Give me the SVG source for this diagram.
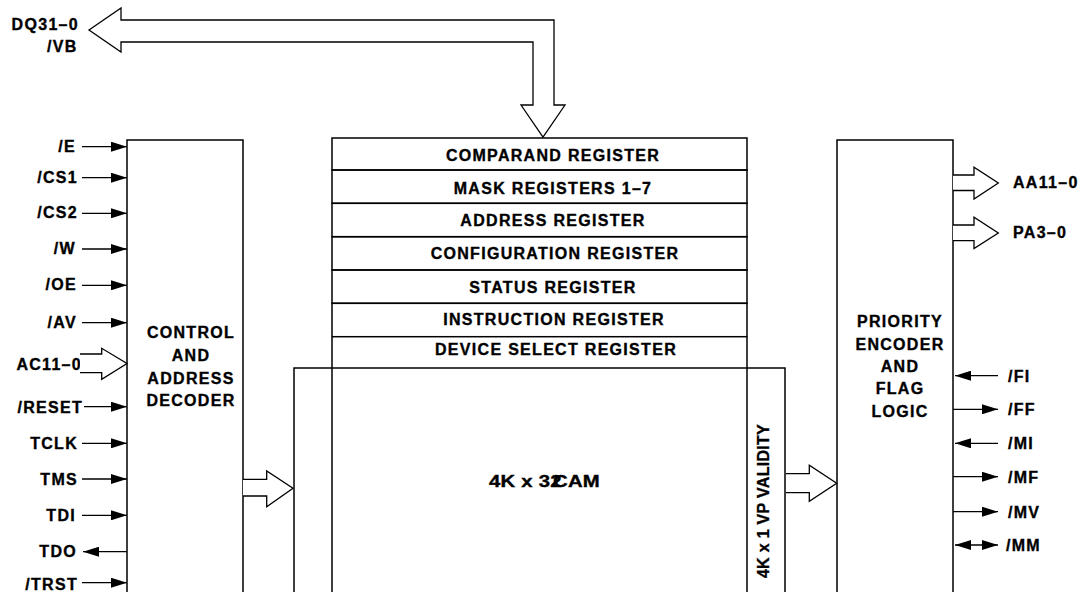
<svg xmlns="http://www.w3.org/2000/svg" width="1082" height="592" viewBox="0 0 1082 592">
<style>
.b{fill:none;stroke:#000;stroke-width:1.5}
.h{fill:#fff;stroke:#000;stroke-width:1.3;stroke-linejoin:miter}
.o{fill:none;stroke:#000;stroke-width:1.3}
.s{fill:none;stroke:#000;stroke-width:1.3;marker-end:url(#ah)}
.t{font-family:"Liberation Sans",Arial,Helvetica,sans-serif;font-weight:bold;font-size:16px;letter-spacing:1.3px;fill:#000;stroke:#000;stroke-width:0.35px}
.e{text-anchor:end}
.m{text-anchor:middle}
</style>
<defs>
<marker id="ah" markerUnits="userSpaceOnUse" markerWidth="16" markerHeight="10" refX="16" refY="5" orient="auto-start-reverse">
<path d="M0,0 L16,5 L0,10 z" fill="#000"/>
</marker>
</defs>
<rect width="1082" height="592" fill="#fff"/>

<g id="control">
<path class="b" d="M127,600 V140 H243 V600"/>
<text class="t m" x="191" y="338">CONTROL</text>
<text class="t m" x="191" y="361">AND</text>
<text class="t m" x="191" y="383.5">ADDRESS</text>
<text class="t m" x="191" y="406">DECODER</text>
</g>

<g id="registers">
<rect class="b" x="332" y="138" width="415" height="32"/>
<rect class="b" x="332" y="170" width="415" height="33.3"/>
<rect class="b" x="332" y="203.3" width="415" height="33.4"/>
<rect class="b" x="332" y="236.7" width="415" height="33.3"/>
<rect class="b" x="332" y="270" width="415" height="33.3"/>
<rect class="b" x="332" y="303.3" width="415" height="33.4"/>
<path class="b" d="M332,336.7 V600 M747,336.7 V600"/>
<text class="t m" x="553" y="161">COMPARAND REGISTER</text>
<text class="t m" x="553" y="193.5">MASK REGISTERS 1–7</text>
<text class="t m" x="553" y="225.5">ADDRESS REGISTER</text>
<text class="t m" x="555" y="259">CONFIGURATION REGISTER</text>
<text class="t m" x="553" y="293">STATUS REGISTER</text>
<text class="t m" x="554" y="325">INSTRUCTION REGISTER</text>
<text class="t m" x="556" y="355">DEVICE SELECT REGISTER</text>
</g>

<g id="cam">
<path class="b" d="M294,600 V368 H785 V600"/>
<g transform="translate(489,487) scale(1.27,1)">
<text class="t" x="0" y="0" dx="0 0 0 0 0 0 0 -7" style="letter-spacing:0.2px">4K x 32CAM</text>
</g>
</g>

<g id="validity">
<text class="t m" transform="translate(769,501) rotate(-90)" style="letter-spacing:0.3px">4K x 1 VP VALIDITY</text>
</g>

<g id="priority">
<path class="b" d="M837,600 V140 H953 V600"/>
<text class="t m" x="900" y="326.5">PRIORITY</text>
<text class="t m" x="900" y="349.5">ENCODER</text>
<text class="t m" x="900" y="371.7">AND</text>
<text class="t m" x="900" y="394.4">FLAG</text>
<text class="t m" x="900" y="417">LOGIC</text>
</g>

<g id="labels">
<text class="t e" x="79" y="29.5">DQ31–0</text>
<text class="t e" x="77.5" y="51.7">/VB</text>
<text class="t e" x="76" y="152">/E</text>
<text class="t e" x="78" y="182.7">/CS1</text>
<text class="t e" x="78" y="218.3">/CS2</text>
<text class="t e" x="76" y="253.8">/W</text>
<text class="t e" x="77" y="290">/OE</text>
<text class="t e" x="77" y="327.5">/AV</text>
<text class="t e" x="82" y="369.5">AC11–0</text>
<text class="t e" x="83" y="412.5">/RESET</text>
<text class="t e" x="78" y="448.5">TCLK</text>
<text class="t e" x="78" y="485">TMS</text>
<text class="t e" x="76" y="521">TDI</text>
<text class="t e" x="77" y="556.7">TDO</text>
<text class="t e" x="78" y="590">/TRST</text>
<text class="t" x="1013" y="188.3">AA11–0</text>
<text class="t" x="1013" y="238.3">PA3–0</text>
<text class="t" x="1008" y="381.7">/FI</text>
<text class="t" x="1008" y="415">/FF</text>
<text class="t" x="1008" y="449">/MI</text>
<text class="t" x="1008" y="482.5">/MF</text>
<text class="t" x="1008" y="517.5">/MV</text>
<text class="t" x="1006" y="551">/MM</text>
</g>

<g id="connectors">
<polygon class="h" points="89,30 121,8 121,20 554,20 554,105 565,105 543,137 521,105 533,105 533,42 121,42 121,52"/>
<path class="h" d="M80,354 H101.7 V348.3 L127,363.5 L101.7,379.3 V372.7 H80"/>
<path class="h" d="M243,479.3 H266.7 V471 L293,488.3 L266.7,506.7 V496 H243"/>
<path class="h" d="M786,473.7 H809.3 V465.3 L836.7,483.3 L809.3,501.3 V492.7 H786"/>
<path class="h" d="M953,175 H974 V167.3 L998.3,183 L974,199 V190.5 H953"/>
<path class="h" d="M953,225 H974 V217.3 L998.3,233 L974,248.5 V240.7 H953"/>
<line class="s" x1="82" y1="146.7" x2="127" y2="146.7"/>
<line class="s" x1="82" y1="177.7" x2="127" y2="177.7"/>
<line class="s" x1="82" y1="213.3" x2="127" y2="213.3"/>
<line class="s" x1="82" y1="249" x2="127" y2="249"/>
<line class="s" x1="82" y1="285.3" x2="127" y2="285.3"/>
<line class="s" x1="82" y1="322.7" x2="127" y2="322.7"/>
<line class="s" x1="84" y1="406.7" x2="127" y2="406.7"/>
<line class="s" x1="82" y1="443.3" x2="127" y2="443.3"/>
<line class="s" x1="82" y1="479" x2="127" y2="479"/>
<line class="s" x1="82" y1="515.3" x2="127" y2="515.3"/>
<line class="s" x1="127" y1="551.7" x2="83" y2="551.7"/>
<line class="s" x1="82" y1="582.7" x2="127" y2="582.7"/>
<line class="s" x1="998" y1="375.7" x2="955" y2="375.7"/>
<line class="s" x1="953" y1="409.3" x2="998" y2="409.3"/>
<line class="s" x1="998" y1="443.3" x2="955" y2="443.3"/>
<line class="s" x1="953" y1="476.7" x2="998" y2="476.7"/>
<line class="s" x1="953" y1="511.7" x2="998" y2="511.7"/>
<line class="s" x1="955" y1="545" x2="998" y2="545" style="marker-start:url(#ah)"/>
</g>
</svg>
